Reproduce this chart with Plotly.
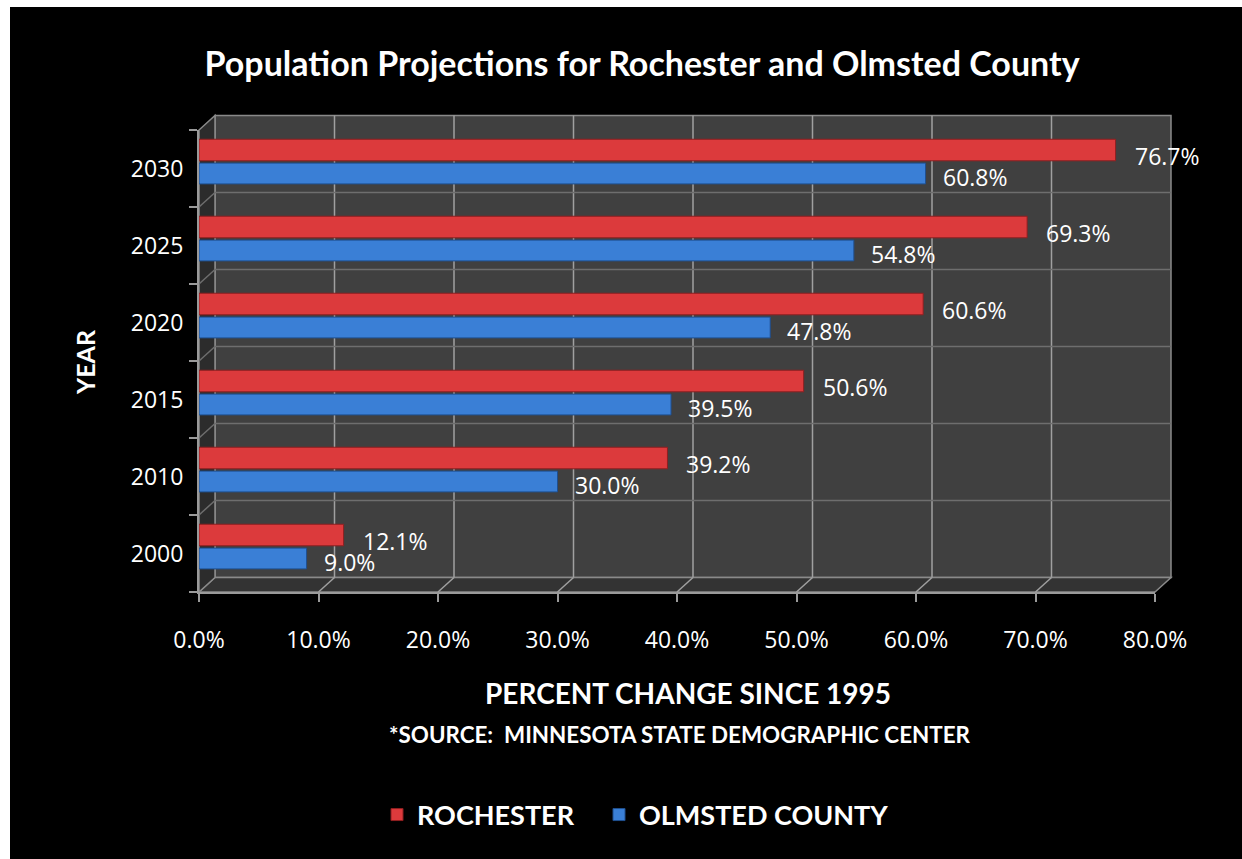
import plotly.graph_objects as go

years = ["2000", "2010", "2015", "2020", "2025", "2030"]
rochester = [12.1, 39.2, 50.6, 60.6, 69.3, 76.7]
olmsted = [9.0, 30.0, 39.5, 47.8, 54.8, 60.8]
x_ticks = [0, 10, 20, 30, 40, 50, 60, 70, 80]

W, H = 1242, 859
L, R, T, B = 199, 87, 130, 267
pw, ph = W - L - R, H - T - B
DX, DY = 16, 14.5  # depth offset of the back wall (px)

def px_x(p):
    return (p - L) / pw

def px_y(p):
    return (H - B - p) / ph

LABEL_FONT = dict(color="white", size=23, family="Open Sans")
LEGEND_FONT = dict(color="white", size=27, family="Lato", weight="bold")

fig = go.Figure()
fig.add_trace(go.Bar(
    y=years, x=olmsted, orientation="h", name="OLMSTED COUNTY", legend="legend2",
    width=0.27, offset=-0.2,
    marker=dict(color="#3a7fd6", line=dict(color="#1f4f8f", width=1)),
))
fig.add_trace(go.Bar(
    y=years, x=rochester, orientation="h", name="ROCHESTER", legend="legend",
    width=0.28, offset=0.1,
    marker=dict(color="#dc3a3c", line=dict(color="#8f1f20", width=1)),
))

for i, v in enumerate(rochester):
    fig.add_annotation(x=v, y=i, xref="x", yref="y", text=f"{v:.1f}%", showarrow=False,
                       xanchor="left", yanchor="middle", xshift=17, yshift=12.5, font=LABEL_FONT)
for i, v in enumerate(olmsted):
    fig.add_annotation(x=v, y=i, xref="x", yref="y", text=f"{v:.1f}%", showarrow=False,
                       xanchor="left", yanchor="middle", xshift=15, yshift=-8.5, font=LABEL_FONT)

fig.update_layout(
    width=W, height=H,
    margin=dict(l=L, r=R, t=T, b=B),
    paper_bgcolor="black",
    plot_bgcolor="rgba(0,0,0,0)",
    barmode="group",
    showlegend=True,
    legend=dict(orientation="h", x=px_x(377), xanchor="left", y=px_y(815), yanchor="middle",
                font=LEGEND_FONT, itemwidth=30, bgcolor="rgba(0,0,0,0)"),
    legend2=dict(orientation="h", x=px_x(599), xanchor="left", y=px_y(815), yanchor="middle",
                 font=LEGEND_FONT, itemwidth=30, bgcolor="rgba(0,0,0,0)"),
    title=dict(text="<b>Population Projections for Rochester and Olmsted County</b>",
               x=0.517, xanchor="center", y=1 - 64 / H, yanchor="middle",
               font=dict(color="white", size=34, family="Lato")),
    xaxis=dict(range=[0, 80], tickvals=x_ticks, ticktext=[f"{v:.1f}%" for v in x_ticks],
               tickfont=dict(color="white", size=23, family="Open Sans"),
               showgrid=False,
               showline=True, linecolor="#9a9a9a", linewidth=2,
               ticks="outside", ticklen=8, tickcolor="#9a9a9a", tickwidth=2,
               ticklabelstandoff=18, zeroline=False, fixedrange=True),
    yaxis=dict(type="category", categoryorder="array", categoryarray=years, range=[-0.5, 5.5],
               tickfont=dict(color="white", size=23, family="Open Sans"),
               tickson="boundaries", showgrid=False,
               showline=True, linecolor="#9a9a9a", linewidth=2,
               ticks="outside", ticklen=8, tickcolor="#9a9a9a", tickwidth=2,
               ticklabelstandoff=9, fixedrange=True),
)

# 3D-style walls
x_l, x_r, y_t, y_b = px_x(L), px_x(W - R), px_y(T), px_y(H - B)
bx_l, bx_r, by_t, by_b = px_x(L + DX), px_x(W - R + DX), px_y(T - DY), px_y(H - B - DY)
fig.add_shape(type="rect", xref="paper", yref="paper", x0=bx_l, x1=bx_r, y0=by_b, y1=by_t,
              fillcolor="#404040", line=dict(color="#8a8a8a", width=1.5), layer="below")
fig.add_shape(type="path", xref="paper", yref="paper",
              path=f"M {x_l} {y_b} L {x_r} {y_b} L {bx_r} {by_b} L {bx_l} {by_b} Z",
              fillcolor="#333333", line=dict(color="#8a8a8a", width=1.5), layer="below")
fig.add_shape(type="path", xref="paper", yref="paper",
              path=f"M {x_l} {y_b} L {x_l} {y_t} L {bx_l} {by_t} L {bx_l} {by_b} Z",
              fillcolor="#2c2c2c", line=dict(color="#8a8a8a", width=1.5), layer="below")

# gridlines on back wall and floor, anchored on x tick values
for v in x_ticks[1:]:
    fig.add_shape(type="line", xref="x", xsizemode="pixel", xanchor=v, x0=DX, x1=DX,
                  yref="paper", y0=by_b, y1=by_t, line=dict(color="#a0a0a0", width=1.5), layer="below")
    fig.add_shape(type="line", xref="x", xsizemode="pixel", xanchor=v, x0=0, x1=DX,
                  yref="paper", y0=y_b, y1=by_b, line=dict(color="#a0a0a0", width=1.5), layer="below")

# category boundary lines on back wall and left wall
for k in range(1, len(years)):
    b = k - 0.5
    fig.add_shape(type="line", yref="y", ysizemode="pixel", yanchor=b, y0=DY, y1=DY,
                  xref="paper", x0=bx_l, x1=bx_r, line=dict(color="#6e6e6e", width=1.5), layer="below")
    fig.add_shape(type="line", yref="y", ysizemode="pixel", yanchor=b, y0=0, y1=DY,
                  xref="paper", x0=x_l, x1=bx_l, line=dict(color="#6e6e6e", width=1.5), layer="below")

fig.add_annotation(text="<b>PERCENT CHANGE SINCE 1995</b>", xref="paper", yref="paper",
                   x=px_x(688), y=px_y(693), xanchor="center", yanchor="middle", showarrow=False,
                   font=dict(color="white", size=28, family="Lato"))
fig.add_annotation(text="<b>*SOURCE:  MINNESOTA STATE DEMOGRAPHIC CENTER</b>", xref="paper", yref="paper",
                   x=px_x(680), y=px_y(734), xanchor="center", yanchor="middle", showarrow=False,
                   font=dict(color="white", size=22.4, family="Lato"))
fig.add_annotation(text="<b>YEAR</b>", xref="paper", yref="paper", textangle=-90,
                   x=px_x(85), y=px_y(362), xanchor="center", yanchor="middle", showarrow=False,
                   font=dict(color="white", size=25, family="Lato"))

# white frame at top and left edges
fig.add_shape(type="rect", xref="paper", yref="paper", x0=px_x(0), x1=px_x(10), y0=px_y(H), y1=px_y(0),
              fillcolor="white", line_width=0, layer="above")
fig.add_shape(type="rect", xref="paper", yref="paper", x0=px_x(0), x1=px_x(W), y0=px_y(7), y1=px_y(0),
              fillcolor="white", line_width=0, layer="above")

fig.write_html("out.html")
